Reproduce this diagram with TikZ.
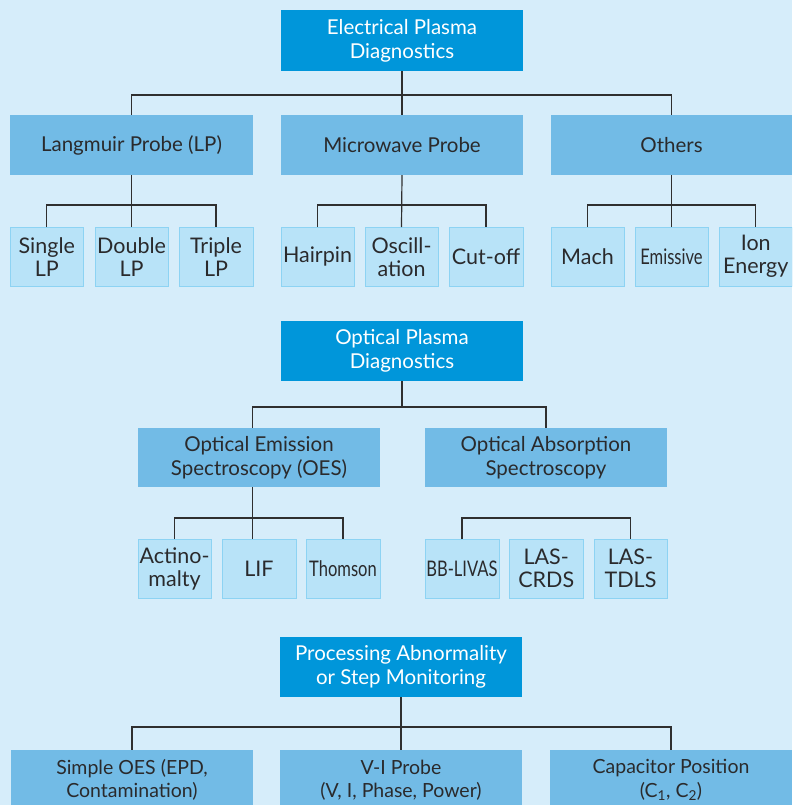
\documentclass[tikz,border=0pt]{standalone}
\usepackage{fontspec}
\setmainfont{Lato}
\usepackage{graphicx}
\definecolor{bgc}{HTML}{D6EDFA}
\definecolor{dkb}{HTML}{0096DA}
\definecolor{mdb}{HTML}{72BBE6}
\definecolor{ltb}{HTML}{B8E3F8}
\definecolor{ltbd}{HTML}{8DD3F3}
\definecolor{txt}{HTML}{2A2A2C}
\definecolor{lnc}{HTML}{2F2F2F}
\tikzset{
  base/.style={rectangle, inner sep=0pt, align=center, text=txt},
  dark/.style={base, fill=dkb, text=white, font=\fontsize{20.5}{24}\selectfont},
  mid/.style={base, fill=mdb, font=\fontsize{20.5}{24}\selectfont},
  midb/.style={base, fill=mdb, font=\fontsize{19.5}{23.5}\selectfont},
  light/.style={base, fill=ltb, draw=ltbd, line width=1pt, font=\fontsize{21.5}{23}\selectfont},
  conn/.style={draw=lnc, line width=1.2pt},
}
\newcommand\bx[7]{\node[#2, minimum width={#5-#3}, minimum height={#6-#4}] (#1) at ({(#3+#5)/2},{(#4+#6)/2}) {#7};}
\newcommand\sq[2]{\scalebox{#1}[1]{#2}}
\begin{document}
\begin{tikzpicture}[x=1pt,y=-1pt]
\fill[bgc] (0,0) rectangle (792,805);
\useasboundingbox (0,0) rectangle (792,805);
\clip (0,0) rectangle (792,805);
% ---- Electrical
\bx{el}{dark}{281}{10}{523}{71}{Electrical Plasma\\Diagnostics}
\bx{lp}{mid}{10}{115}{253}{175}{Langmuir Probe (LP)}
\bx{mw}{mid}{281}{115}{523}{175}{Microwave Probe}
\bx{ot}{mid}{551}{115}{792}{175}{Others}
\bx{slp}{light}{10.5}{227.5}{83}{286}{Single\\LP}
\bx{dlp}{light}{95}{227.5}{168}{286}{Double\\LP}
\bx{tlp}{light}{179}{227.5}{253}{286}{Triple\\LP}
\bx{hp}{light}{281}{227.5}{354}{286}{Hairpin}
\bx{osc}{light}{365}{227.5}{438}{286}{Oscill-\\ation}
\bx{cut}{light}{449}{227.5}{523}{286}{Cut-off}
\bx{mach}{light}{551}{227.5}{624}{286}{Mach}
\bx{emi}{light}{635}{227.5}{708}{286}{\sq{0.77}{Emissive}}
\bx{ion}{light}{719}{227.5}{792.5}{286}{Ion\\Energy}
\coordinate (b1) at (402,95);
\draw[conn] (el.south) -- (mw.north);
\draw[conn] (lp.north) |- (b1) -| (ot.north);
\coordinate (b2) at (132,205);
\draw[conn] (lp.south) -- (dlp.north);
\draw[conn] (slp.north) |- (b2) -| (tlp.north);
\coordinate (b3) at (402,205);
\draw[conn] (mw.south) -- (osc.north);
\draw[conn] (hp.north) |- (b3) -| (cut.north);
\coordinate (b4) at (671,205);
\draw[conn] (ot.south) -- (emi.north);
\draw[conn] (mach.north) |- (b4) -| (ion.north);
% ---- Optical
\bx{op}{dark}{281}{321}{523}{381}{Optical Plasma\\Diagnostics}
\bx{oes}{mid}{138}{428}{380}{487}{Optical Emission\\Spectroscopy (OES)}
\bx{oas}{mid}{425}{428}{667}{487}{Optical Absorption\\Spectroscopy}
\bx{act}{light}{138}{539.5}{211}{598}{Actino-\\malty}
\bx{lif}{light}{222}{539.5}{296}{598}{LIF}
\bx{tho}{light}{306}{539.5}{380}{598}{\sq{0.77}{Thomson}}
\bx{bbl}{light}{425}{539.5}{499}{598}{\sq{0.77}{BB-LIVAS}}
\bx{crd}{light}{509.5}{539.5}{583}{598}{LAS-\\CRDS}
\bx{tdl}{light}{594}{539.5}{667}{598}{LAS-\\TDLS}
\coordinate (b5) at (402,407);
\coordinate (oesx) at (252.5,407);
\draw[conn] (op.south) -- (b5);
\draw[conn] (oesx |- oes.north) |- (b5) -| (oas.north);
\coordinate (b6) at (252.5,518);
\draw[conn] (b6 |- oes.south) -- (b6 |- lif.north);
\draw[conn] (act.north) |- (b6) -| (tho.north);
\coordinate (b7) at (546,518);
\draw[conn] (bbl.north) |- (b7) -| (tdl.north);
% ---- Processing
\bx{pr}{dark}{280}{637}{522}{697}{Processing Abnormality\\or Step Monitoring}
\bx{soe}{midb}{11}{750}{253}{810}{Simple OES (EPD,\\Contamination)}
\bx{vi}{midb}{280}{750}{522}{810}{V-I Probe\\(V, I, Phase, Power)}
\bx{cap}{midb}{550}{750}{792}{810}{Capacitor Position\\(C\textsubscript{1}, C\textsubscript{2})}
\coordinate (b8) at (401.5,727);
\draw[conn] (pr.south) -- (vi.north);
\draw[conn] (soe.north) |- (b8) -| (cap.north);
\end{tikzpicture}
\end{document}
